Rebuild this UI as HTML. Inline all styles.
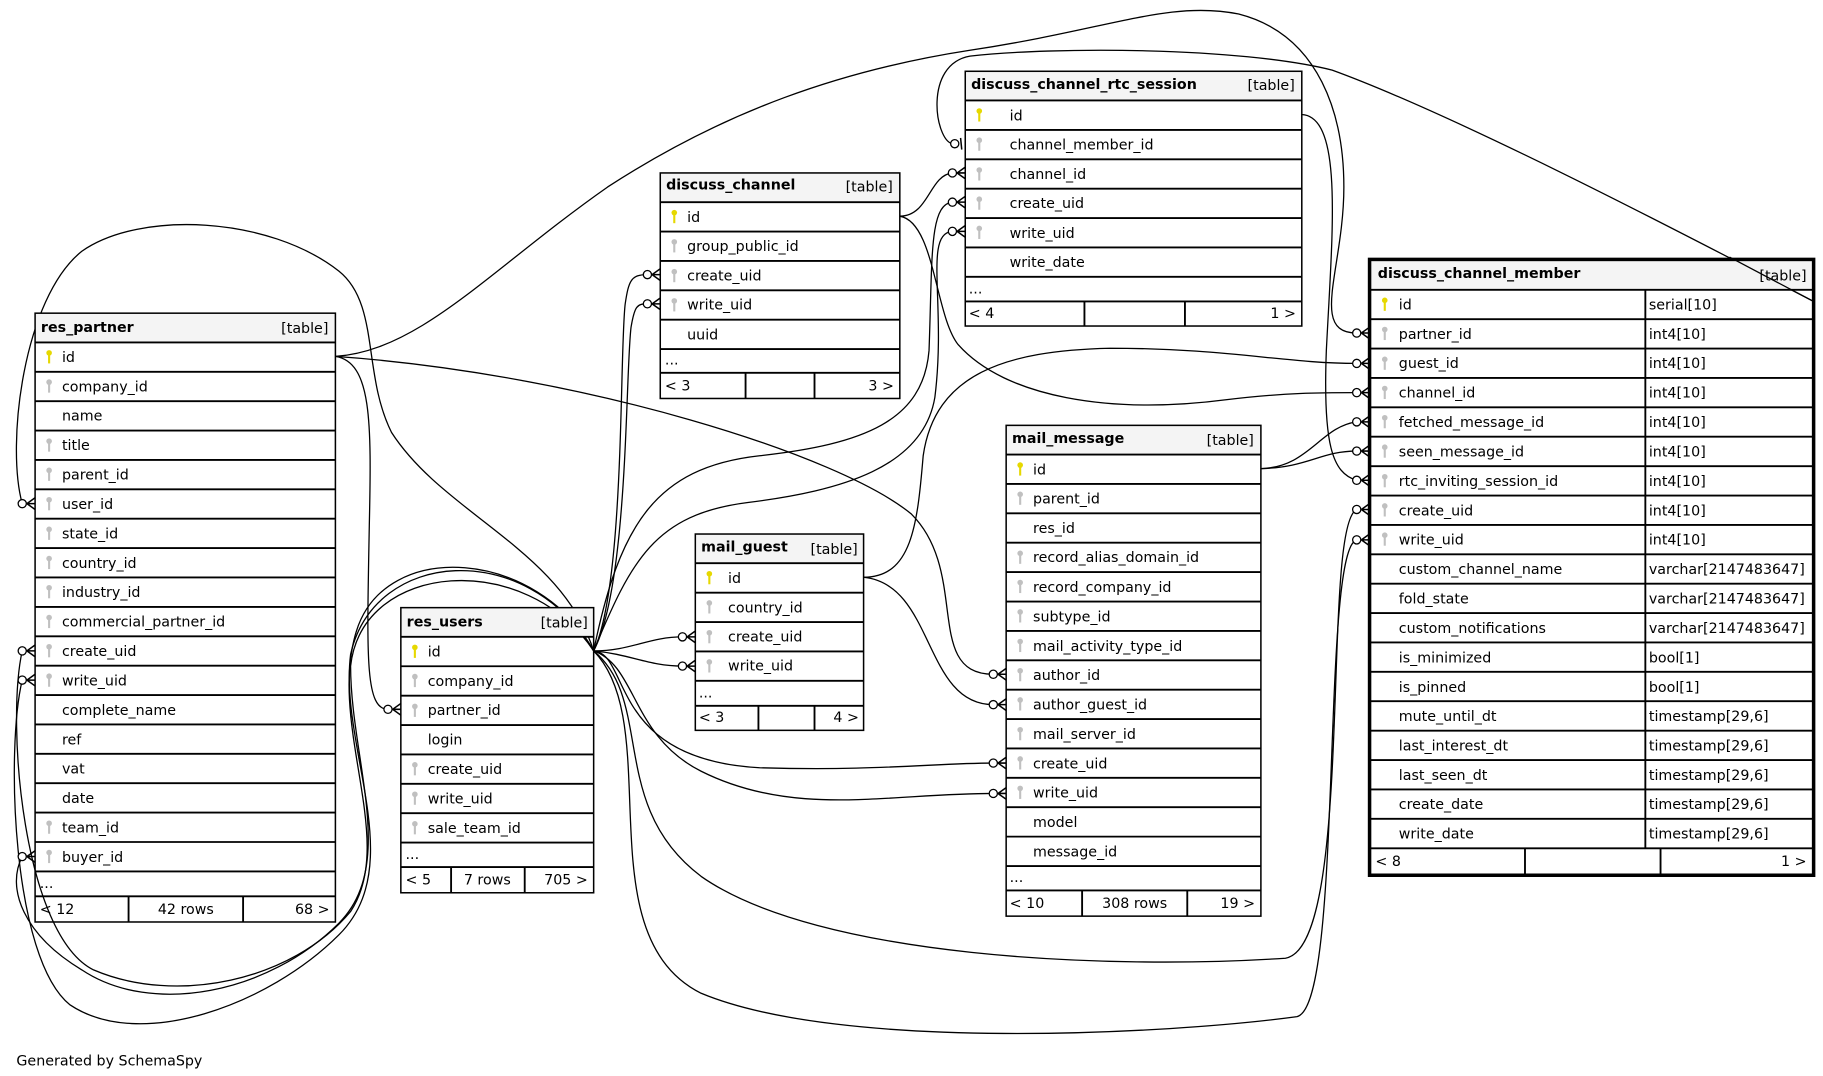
<!DOCTYPE html>
<html><head><meta charset="utf-8"><style>
html,body{margin:0;padding:0;background:#fff}
svg{display:block}
text{font-family:"DejaVu Sans","Liberation Sans",sans-serif;font-size:12.2px;fill:#000}
.h{font-weight:bold}
.t{fill:none;stroke:#000;stroke-width:1.3}
.rl{stroke:#000;stroke-width:1.6}
.c{fill:none;stroke:#000;stroke-width:1.1}
.m circle{fill:#fff;stroke:#000;stroke-width:1.1}
.m path{fill:none;stroke:#000;stroke-width:1.3}
</style></head><body>
<svg width="1823" height="1076" viewBox="0 0 1560 920.8" xmlns="http://www.w3.org/2000/svg">
<defs>
<g id="pk"><circle cx="0" cy="-4" r="2.4" fill="#e6d800"/><rect x="-0.9" y="-3" width="1.8" height="8" fill="#e6d800"/></g>
<g id="fk"><circle cx="0" cy="-4" r="2.4" fill="#c0c0c0"/><rect x="-0.9" y="-3" width="1.8" height="8" fill="#c0c0c0"/></g>
<g id="mk" class="m"><circle cx="-11" cy="0" r="3.5"/><path d="M-7,0 L0,-5 M-7,0 L0,0 M-7,0 L0,5"/></g>
</defs>

<!-- connectors -->
<g class="c">
<path d="M287,305 C360,300 420,230 520,160 C620,95 720,60 830,43 C950,25 1000,0 1060,12 C1130,30 1150,100 1150,160 C1150,230 1120,285 1161,285"/>
<path d="M1552,258 C1450,205 1250,100 1140,60 C1060,40 900,40 830,48 C790,55 800,120 815,123"/>
<path d="M287,305 C500,320 720,390 780,440 C830,490 790,577 850,577"/>
<path d="M287,305 C318,310 318,360 316,450 C314,560 312,607 332,607"/>
<path d="M508,557 C480,470 380,440 335,370 C310,320 325,260 290,232 C230,185 120,180 70,215 C20,255 5,380 19,431"/>
<path d="M508,557 C460,470 330,460 305,540 C280,620 340,720 300,780 C250,840 150,860 80,830 C20,800 5,620 19,557"/>
<path d="M508,557 C450,460 320,470 300,560 C290,640 350,740 290,800 C230,860 120,900 60,860 C10,820 5,640 19,582"/>
<path d="M508,557 C450,470 310,480 300,570 C300,650 340,740 290,790 C230,850 130,870 70,830 C20,800 5,760 19,733"/>
<path d="M508,557 C535,500 530,300 535,260 C538,240 540,235 554,235"/>
<path d="M508,557 C538,500 535,320 540,280 C543,262 545,260 554,260"/>
<path d="M508,557 C530,450 560,400 650,390 C740,380 790,360 795,300 C798,220 795,175 815,173"/>
<path d="M508,557 C540,480 560,440 640,430 C720,420 790,400 800,340 C810,260 790,200 815,198"/>
<path d="M508,557 C540,557 555,545 584,545"/>
<path d="M508,557 C540,560 555,570 584,570"/>
<path d="M508,557 C540,560 520,650 650,657 C750,660 800,653 850,653"/>
<path d="M508,557 C545,570 540,630 600,660 C680,700 760,679 850,679"/>
<path d="M508,557 C560,600 520,690 600,750 C700,820 950,830 1100,820 C1160,810 1130,450 1161,436"/>
<path d="M508,557 C570,620 500,800 600,850 C720,900 1000,885 1110,870 C1150,860 1130,470 1161,462"/>
<path d="M770,185 C795,185 795,150 815,148"/>
<path d="M770,185 C800,190 800,270 820,295 C860,340 950,355 1050,342 C1100,336 1130,336 1161,336"/>
<path d="M739,494 C780,494 785,450 790,390 C800,320 860,300 950,298 C1050,298 1100,311 1161,311"/>
<path d="M739,494 C800,500 790,603 850,603"/>
<path d="M1114,98 C1150,100 1140,200 1135,300 C1132,380 1140,405 1161,411"/>
<path d="M1079,401 C1120,400 1130,365 1161,361"/>
<path d="M1079,401 C1120,400 1130,386 1161,386"/>
</g>

<!-- res_partner -->
<g transform="translate(30,268)">
<rect width="257" height="25" fill="#f4f4f4"/>
<rect class="t" width="257" height="521"/>
<g class="rl">
<line x1="0" x2="257" y1="25" y2="25"/><line x1="0" x2="257" y1="50.15" y2="50.15"/><line x1="0" x2="257" y1="75.3" y2="75.3"/><line x1="0" x2="257" y1="100.45" y2="100.45"/><line x1="0" x2="257" y1="125.6" y2="125.6"/><line x1="0" x2="257" y1="150.75" y2="150.75"/><line x1="0" x2="257" y1="175.9" y2="175.9"/><line x1="0" x2="257" y1="201.05" y2="201.05"/><line x1="0" x2="257" y1="226.2" y2="226.2"/><line x1="0" x2="257" y1="251.35" y2="251.35"/><line x1="0" x2="257" y1="276.5" y2="276.5"/><line x1="0" x2="257" y1="301.65" y2="301.65"/><line x1="0" x2="257" y1="326.8" y2="326.8"/><line x1="0" x2="257" y1="351.95" y2="351.95"/><line x1="0" x2="257" y1="377.1" y2="377.1"/><line x1="0" x2="257" y1="402.25" y2="402.25"/><line x1="0" x2="257" y1="427.4" y2="427.4"/><line x1="0" x2="257" y1="452.55" y2="452.55"/><line x1="0" x2="257" y1="477.7" y2="477.7"/><line x1="0" x2="257" y1="499" y2="499"/>
<line x1="80" x2="80" y1="499" y2="521"/><line x1="178" x2="178" y1="499" y2="521"/>
</g>
<text class="h" x="5" y="16">res_partner</text><text x="251" y="17" text-anchor="end">[table]</text>
<use href="#pk" x="12" y="38"/><use href="#fk" x="12" y="63"/><use href="#fk" x="12" y="113.5"/><use href="#fk" x="12" y="138.5"/><use href="#fk" x="12" y="163.7"/><use href="#fk" x="12" y="189"/><use href="#fk" x="12" y="214"/><use href="#fk" x="12" y="239"/><use href="#fk" x="12" y="264.5"/><use href="#fk" x="12" y="289.5"/><use href="#fk" x="12" y="314.7"/><use href="#fk" x="12" y="440.5"/><use href="#fk" x="12" y="465.6"/>
<text x="23" y="42">id</text><text x="23" y="67">company_id</text><text x="23" y="92">name</text><text x="23" y="117">title</text><text x="23" y="142.5">parent_id</text><text x="23" y="167.7">user_id</text><text x="23" y="193">state_id</text><text x="23" y="218">country_id</text><text x="23" y="243">industry_id</text><text x="23" y="268.3">commercial_partner_id</text><text x="23" y="293.5">create_uid</text><text x="23" y="318.6">write_uid</text><text x="23" y="343.8">complete_name</text><text x="23" y="369">ref</text><text x="23" y="394">vat</text><text x="23" y="419.2">date</text><text x="23" y="444.4">team_id</text><text x="23" y="469.5">buyer_id</text>
<text x="4" y="492">...</text>
<text x="4" y="514">&lt; 12</text><text x="129" y="514" text-anchor="middle">42 rows</text><text x="252" y="514" text-anchor="end">68 &gt;</text>
</g>

<!-- res_users -->
<g transform="translate(343,520)">
<rect width="165" height="25" fill="#f4f4f4"/>
<rect class="t" width="165" height="244"/>
<g class="rl">
<line x1="0" x2="165" y1="25" y2="25"/><line x1="0" x2="165" y1="50.15" y2="50.15"/><line x1="0" x2="165" y1="75.3" y2="75.3"/><line x1="0" x2="165" y1="100.45" y2="100.45"/><line x1="0" x2="165" y1="125.6" y2="125.6"/><line x1="0" x2="165" y1="150.75" y2="150.75"/><line x1="0" x2="165" y1="175.9" y2="175.9"/><line x1="0" x2="165" y1="201.05" y2="201.05"/><line x1="0" x2="165" y1="222" y2="222"/>
<line x1="43" x2="43" y1="222" y2="244"/><line x1="106" x2="106" y1="222" y2="244"/>
</g>
<text class="h" x="5" y="16">res_users</text><text x="160" y="17" text-anchor="end">[table]</text>
<use href="#pk" x="12" y="38"/><use href="#fk" x="12" y="63"/><use href="#fk" x="12" y="88.5"/><use href="#fk" x="12" y="138.5"/><use href="#fk" x="12" y="163.7"/><use href="#fk" x="12" y="189"/>
<text x="23" y="42">id</text><text x="23" y="67">company_id</text><text x="23" y="92">partner_id</text><text x="23" y="117">login</text><text x="23" y="142.5">create_uid</text><text x="23" y="167.7">write_uid</text><text x="23" y="193">sale_team_id</text>
<text x="4" y="215">...</text>
<text x="4" y="237">&lt; 5</text><text x="74" y="237" text-anchor="middle">7 rows</text><text x="160" y="237" text-anchor="end">705 &gt;</text>
</g>

<!-- discuss_channel -->
<g transform="translate(565,148)">
<rect width="205" height="25" fill="#f4f4f4"/>
<rect class="t" width="205" height="193"/>
<g class="rl">
<line x1="0" x2="205" y1="25" y2="25"/><line x1="0" x2="205" y1="50.15" y2="50.15"/><line x1="0" x2="205" y1="75.3" y2="75.3"/><line x1="0" x2="205" y1="100.45" y2="100.45"/><line x1="0" x2="205" y1="125.6" y2="125.6"/><line x1="0" x2="205" y1="150.75" y2="150.75"/><line x1="0" x2="205" y1="171" y2="171"/>
<line x1="73" x2="73" y1="171" y2="193"/><line x1="132" x2="132" y1="171" y2="193"/>
</g>
<text class="h" x="5" y="14">discuss_channel</text><text x="199" y="16" text-anchor="end">[table]</text>
<use href="#pk" x="12" y="38"/><use href="#fk" x="12" y="63"/><use href="#fk" x="12" y="88.5"/><use href="#fk" x="12" y="113.5"/>
<text x="23" y="42">id</text><text x="23" y="67">group_public_id</text><text x="23" y="92">create_uid</text><text x="23" y="117">write_uid</text><text x="23" y="142.5">uuid</text>
<text x="4" y="164">...</text>
<text x="4" y="186">&lt; 3</text><text x="200" y="186" text-anchor="end">3 &gt;</text>
</g>

<!-- discuss_channel_rtc_session -->
<g transform="translate(826,61)">
<rect width="288" height="25" fill="#f4f4f4"/>
<rect class="t" width="288" height="218"/>
<g class="rl">
<line x1="0" x2="288" y1="25" y2="25"/><line x1="0" x2="288" y1="50.15" y2="50.15"/><line x1="0" x2="288" y1="75.3" y2="75.3"/><line x1="0" x2="288" y1="100.45" y2="100.45"/><line x1="0" x2="288" y1="125.6" y2="125.6"/><line x1="0" x2="288" y1="150.75" y2="150.75"/><line x1="0" x2="288" y1="175.9" y2="175.9"/><line x1="0" x2="288" y1="197" y2="197"/>
<line x1="102" x2="102" y1="197" y2="218"/><line x1="188" x2="188" y1="197" y2="218"/>
</g>
<text class="h" x="5" y="15">discuss_channel_rtc_session</text><text x="282" y="16" text-anchor="end">[table]</text>
<use href="#pk" x="12" y="38"/><use href="#fk" x="12" y="63"/><use href="#fk" x="12" y="88.5"/><use href="#fk" x="12" y="113.5"/><use href="#fk" x="12" y="138.5"/>
<text x="38" y="42">id</text><text x="38" y="67">channel_member_id</text><text x="38" y="92">channel_id</text><text x="38" y="117">create_uid</text><text x="38" y="142.5">write_uid</text><text x="38" y="167.7">write_date</text>
<text x="3" y="190">...</text>
<text x="3" y="211">&lt; 4</text><text x="283" y="211" text-anchor="end">1 &gt;</text>
</g>

<!-- mail_guest -->
<g transform="translate(595,457)">
<rect width="144" height="25" fill="#f4f4f4"/>
<rect class="t" width="144" height="168"/>
<g class="rl">
<line x1="0" x2="144" y1="25" y2="25"/><line x1="0" x2="144" y1="50.15" y2="50.15"/><line x1="0" x2="144" y1="75.3" y2="75.3"/><line x1="0" x2="144" y1="100.45" y2="100.45"/><line x1="0" x2="144" y1="125.6" y2="125.6"/><line x1="0" x2="144" y1="147" y2="147"/>
<line x1="54" x2="54" y1="147" y2="168"/><line x1="102" x2="102" y1="147" y2="168"/>
</g>
<text class="h" x="5" y="15">mail_guest</text><text x="139" y="17" text-anchor="end">[table]</text>
<use href="#pk" x="12" y="38"/><use href="#fk" x="12" y="63"/><use href="#fk" x="12" y="88.5"/><use href="#fk" x="12" y="113.5"/>
<text x="28" y="42">id</text><text x="28" y="67">country_id</text><text x="28" y="92">create_uid</text><text x="28" y="117">write_uid</text>
<text x="3" y="140">...</text>
<text x="3" y="161">&lt; 3</text><text x="140" y="161" text-anchor="end">4 &gt;</text>
</g>

<!-- mail_message -->
<g transform="translate(861,364)">
<rect width="218" height="25" fill="#f4f4f4"/>
<rect class="t" width="218" height="420"/>
<g class="rl">
<line x1="0" x2="218" y1="25" y2="25"/><line x1="0" x2="218" y1="50.15" y2="50.15"/><line x1="0" x2="218" y1="75.3" y2="75.3"/><line x1="0" x2="218" y1="100.45" y2="100.45"/><line x1="0" x2="218" y1="125.6" y2="125.6"/><line x1="0" x2="218" y1="150.75" y2="150.75"/><line x1="0" x2="218" y1="175.9" y2="175.9"/><line x1="0" x2="218" y1="201.05" y2="201.05"/><line x1="0" x2="218" y1="226.2" y2="226.2"/><line x1="0" x2="218" y1="251.35" y2="251.35"/><line x1="0" x2="218" y1="276.5" y2="276.5"/><line x1="0" x2="218" y1="301.65" y2="301.65"/><line x1="0" x2="218" y1="326.8" y2="326.8"/><line x1="0" x2="218" y1="351.95" y2="351.95"/><line x1="0" x2="218" y1="377.1" y2="377.1"/><line x1="0" x2="218" y1="398" y2="398"/>
<line x1="65" x2="65" y1="398" y2="420"/><line x1="155" x2="155" y1="398" y2="420"/>
</g>
<text class="h" x="5" y="15">mail_message</text><text x="212" y="17" text-anchor="end">[table]</text>
<use href="#pk" x="12" y="38"/><use href="#fk" x="12" y="63"/><use href="#fk" x="12" y="113.5"/><use href="#fk" x="12" y="138.5"/><use href="#fk" x="12" y="163.7"/><use href="#fk" x="12" y="189"/><use href="#fk" x="12" y="214"/><use href="#fk" x="12" y="239"/><use href="#fk" x="12" y="264.5"/><use href="#fk" x="12" y="289.5"/><use href="#fk" x="12" y="314.7"/>
<text x="23" y="42">id</text><text x="23" y="67">parent_id</text><text x="23" y="92">res_id</text><text x="23" y="117">record_alias_domain_id</text><text x="23" y="142.5">record_company_id</text><text x="23" y="167.7">subtype_id</text><text x="23" y="193">mail_activity_type_id</text><text x="23" y="218">author_id</text><text x="23" y="243">author_guest_id</text><text x="23" y="268.3">mail_server_id</text><text x="23" y="293.5">create_uid</text><text x="23" y="318.6">write_uid</text><text x="23" y="343.8">model</text><text x="23" y="369">message_id</text>
<text x="3" y="391">...</text>
<text x="3" y="413">&lt; 10</text><text x="110" y="413" text-anchor="middle">308 rows</text><text x="213" y="413" text-anchor="end">19 &gt;</text>
</g>

<!-- discuss_channel_member -->
<g transform="translate(1172,222)">
<rect width="380" height="26" fill="#f4f4f4"/>
<rect class="t" width="380" height="527" style="stroke-width:3"/>
<g class="rl">
<line x1="0" x2="380" y1="26" y2="26"/><line x1="0" x2="380" y1="51.15" y2="51.15"/><line x1="0" x2="380" y1="76.3" y2="76.3"/><line x1="0" x2="380" y1="101.45" y2="101.45"/><line x1="0" x2="380" y1="126.6" y2="126.6"/><line x1="0" x2="380" y1="151.75" y2="151.75"/><line x1="0" x2="380" y1="176.9" y2="176.9"/><line x1="0" x2="380" y1="202.05" y2="202.05"/><line x1="0" x2="380" y1="227.2" y2="227.2"/><line x1="0" x2="380" y1="252.35" y2="252.35"/><line x1="0" x2="380" y1="277.5" y2="277.5"/><line x1="0" x2="380" y1="302.65" y2="302.65"/><line x1="0" x2="380" y1="327.8" y2="327.8"/><line x1="0" x2="380" y1="352.95" y2="352.95"/><line x1="0" x2="380" y1="378.1" y2="378.1"/><line x1="0" x2="380" y1="403.25" y2="403.25"/><line x1="0" x2="380" y1="428.4" y2="428.4"/><line x1="0" x2="380" y1="453.55" y2="453.55"/><line x1="0" x2="380" y1="478.7" y2="478.7"/><line x1="0" x2="380" y1="504" y2="504"/>
<line x1="236" x2="236" y1="26" y2="504"/>
<line x1="133" x2="133" y1="504" y2="527"/><line x1="249" x2="249" y1="504" y2="527"/>
</g>
<text class="h" x="7" y="16">discuss_channel_member</text><text x="374" y="18" text-anchor="end">[table]</text>
<use href="#pk" x="13" y="39"/><use href="#fk" x="13" y="64"/><use href="#fk" x="13" y="89.5"/><use href="#fk" x="13" y="114.5"/><use href="#fk" x="13" y="139.5"/><use href="#fk" x="13" y="164.7"/><use href="#fk" x="13" y="190"/><use href="#fk" x="13" y="215"/><use href="#fk" x="13" y="240"/>
<text x="25" y="43">id</text><text x="25" y="68">partner_id</text><text x="25" y="93">guest_id</text><text x="25" y="118">channel_id</text><text x="25" y="143.5">fetched_message_id</text><text x="25" y="168.7">seen_message_id</text><text x="25" y="194">rtc_inviting_session_id</text><text x="25" y="219">create_uid</text><text x="25" y="244">write_uid</text><text x="25" y="269.3">custom_channel_name</text><text x="25" y="294.5">fold_state</text><text x="25" y="319.6">custom_notifications</text><text x="25" y="344.8">is_minimized</text><text x="25" y="370">is_pinned</text><text x="25" y="395">mute_until_dt</text><text x="25" y="420.2">last_interest_dt</text><text x="25" y="445.4">last_seen_dt</text><text x="25" y="470.5">create_date</text><text x="25" y="495.6">write_date</text>
<text x="239" y="43">serial[10]</text><text x="239" y="68">int4[10]</text><text x="239" y="93">int4[10]</text><text x="239" y="118">int4[10]</text><text x="239" y="143.5">int4[10]</text><text x="239" y="168.7">int4[10]</text><text x="239" y="194">int4[10]</text><text x="239" y="219">int4[10]</text><text x="239" y="244">int4[10]</text><text x="239" y="269.3">varchar[2147483647]</text><text x="239" y="294.5">varchar[2147483647]</text><text x="239" y="319.6">varchar[2147483647]</text><text x="239" y="344.8">bool[1]</text><text x="239" y="370">bool[1]</text><text x="239" y="395">timestamp[29,6]</text><text x="239" y="420.2">timestamp[29,6]</text><text x="239" y="445.4">timestamp[29,6]</text><text x="239" y="470.5">timestamp[29,6]</text><text x="239" y="495.6">timestamp[29,6]</text>
<text x="5" y="519">&lt; 8</text><text x="374" y="519" text-anchor="end">1 &gt;</text>
</g>
<line x1="1552" y1="258" x2="1480" y2="220" stroke="#000" stroke-width="1.1"/>

<!-- markers -->
<use href="#mk" x="30" y="431"/><use href="#mk" x="30" y="557"/><use href="#mk" x="30" y="582"/><use href="#mk" x="30" y="733"/>
<use href="#mk" x="343" y="607"/>
<use href="#mk" x="565" y="235"/><use href="#mk" x="565" y="260"/>
<g class="m" transform="translate(826,123)"><circle cx="-9" cy="0" r="3.5"/><path d="M-4,-5 L-3,5"/></g>
<use href="#mk" x="826" y="148"/><use href="#mk" x="826" y="173"/><use href="#mk" x="826" y="198"/>
<use href="#mk" x="595" y="545"/><use href="#mk" x="595" y="570"/>
<use href="#mk" x="861" y="577"/><use href="#mk" x="861" y="603"/><use href="#mk" x="861" y="653"/><use href="#mk" x="861" y="679"/>
<use href="#mk" x="1172" y="285"/><use href="#mk" x="1172" y="311"/><use href="#mk" x="1172" y="336"/><use href="#mk" x="1172" y="361"/><use href="#mk" x="1172" y="386"/><use href="#mk" x="1172" y="411"/><use href="#mk" x="1172" y="436"/><use href="#mk" x="1172" y="462"/>

<text x="14" y="912">Generated by SchemaSpy</text>
</svg>
</body></html>
